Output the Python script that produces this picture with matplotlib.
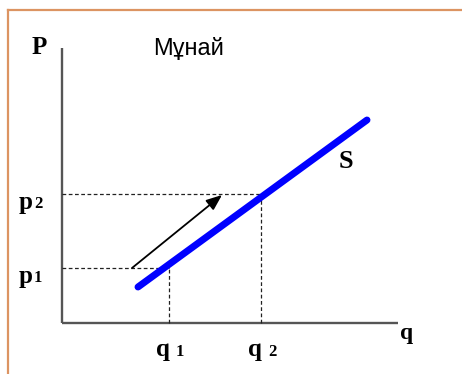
import matplotlib
matplotlib.use("Agg")
import matplotlib.pyplot as plt
from matplotlib.lines import Line2D

# ---- data (economic units) ----
title = "Мұнай"
q_levels = [10.7, 19.9]          # q1, q2
p_levels = [5.5, 12.9]           # p1, p2
q_labels = ["q", "q"]
q_subs = ["1", "2"]
p_labels = ["p", "p"]
p_subs = ["1", "2"]
supply_q = [7.6, 30.5]
supply_p = [3.6, 20.3]
shift_from = (7.0, 5.5)
shift_to = (16.0, 12.8)
q_axis_max = 33.6
p_axis_max = 27.5

fig = plt.figure(figsize=(4.62, 3.74), dpi=100)
fig.patch.set_facecolor("white")
ax = fig.add_axes([0, 0, 1, 1])
ax.set_xlim(-6.2, 40.0)
ax.set_ylim(-5.1, 32.3)
ax.axis("off")

# frame border (top & left)
fig.add_artist(Line2D([8/462, 1], [1-10/374, 1-10/374], color="#DC9462", lw=1.6,
                      transform=fig.transFigure))
fig.add_artist(Line2D([8/462, 8/462], [0, 1-10/374], color="#DC9462", lw=1.6,
                      transform=fig.transFigure))

# axes
ax.plot([0, 0], [0, p_axis_max], color="#555555", lw=1.7, solid_capstyle="butt")
ax.plot([0, q_axis_max], [0, 0], color="#555555", lw=1.7, solid_capstyle="butt")

# dashed guides
for q, p in zip(q_levels, p_levels):
    ax.plot([0, q], [p, p], color="#222222", lw=0.9, ls=(0, (3, 2)))
    ax.plot([q, q], [0, p], color="#222222", lw=0.9, ls=(0, (3, 2)))

# supply curve
ax.plot(supply_q, supply_p, color="#0000FF", lw=5, solid_capstyle="round")

# shift arrow
ax.annotate("", xy=shift_to, xytext=shift_from,
            arrowprops=dict(arrowstyle="-|>,head_length=0.95,head_width=0.38",
                            color="black", lw=1.3, shrinkA=0, shrinkB=0))

serif = "Liberation Serif"
# axis labels
ax.text(-1.5, 27.5, "P", fontsize=18, fontweight="bold", family=serif,
        ha="right", va="center")
ax.text(33.8, -1.0, "q", fontsize=17, fontweight="bold", family=serif,
        ha="left", va="center")
ax.text(28.4, 16.1, "S", fontsize=19, fontweight="bold", family=serif,
        ha="center", va="center")
ax.text(12.7, 27.5, title, fontsize=17, family="Liberation Sans",
        ha="center", va="center")

# price labels
for p, lab, sub in zip(p_levels, p_labels, p_subs):
    ax.text(-4.3, p - 1.45, lab, fontsize=18, fontweight="bold", family=serif,
            ha="left", va="baseline")
    ax.text(-2.8, p - 1.45, sub, fontsize=12, fontweight="bold", family=serif,
            ha="left", va="baseline")

# quantity labels
for q, lab, sub in zip(q_levels, q_labels, q_subs):
    ax.text(q - 1.3, -3.3, lab, fontsize=18, fontweight="bold", family=serif,
            ha="left", va="baseline")
    ax.text(q + 0.7, -3.3, sub, fontsize=12, fontweight="bold", family=serif,
            ha="left", va="baseline")

fig.savefig("out.png", dpi=100, facecolor="white")
